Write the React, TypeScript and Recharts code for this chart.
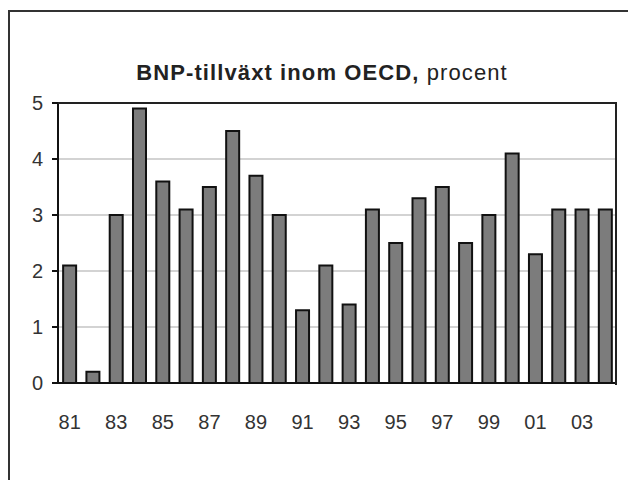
import { Bar, BarChart, CartesianGrid, XAxis, YAxis } from 'recharts'

const years = [
    '81', '82', '83', '84', '85', '86', '87', '88', '89', '90', '91', '92',
    '93', '94', '95', '96', '97', '98', '99', '00', '01', '02', '03', '04',
]
const growth = [
    2.1, 0.2, 3.0, 4.9, 3.6, 3.1, 3.5, 4.5, 3.7, 3.0, 1.3, 2.1,
    1.4, 3.1, 2.5, 3.3, 3.5, 2.5, 3.0, 4.1, 2.3, 3.1, 3.1, 3.1,
]
const yTicks = [0, 1, 2, 3, 4, 5]

const data = years.map((year, i) => ({ year, value: growth[i] }))

const font = 'Arial, "Liberation Sans", sans-serif'

export default function App() {
    return (
        <div
            style={{
                position: 'absolute',
                left: 0,
                top: 0,
                width: 628,
                height: 480,
                background: '#fff',
                overflow: 'hidden',
                fontFamily: font,
            }}
        >
            {/* outer frame, only top and left edges show */}
            <div
                style={{
                    position: 'absolute',
                    left: 8,
                    top: 10,
                    width: 640,
                    height: 500,
                    borderTop: '2px solid #333',
                    borderLeft: '2px solid #333',
                }}
            />
            <div
                style={{
                    position: 'absolute',
                    left: 0,
                    width: 644,
                    top: 60,
                    textAlign: 'center',
                    fontSize: 22,
                    letterSpacing: 1.1,
                    color: '#222',
                    whiteSpace: 'nowrap',
                }}
            >
                <b>BNP-tillväxt inom OECD,</b> procent
            </div>
            <BarChart
                width={628}
                height={480}
                data={data}
                margin={{ top: 103, right: 11, bottom: 57, left: 0 }}
                barCategoryGap='22%'
                style={{ position: 'absolute', left: 0, top: 0 }}
            >
                <CartesianGrid vertical={false} stroke='#c4c4c4' strokeWidth={1.5} />
                <XAxis
                    dataKey='year'
                    interval={1}
                    tickLine={false}
                    tickMargin={26}
                    height={40}
                    axisLine={{ stroke: '#111', strokeWidth: 2 }}
                    tick={{ fill: '#333', fontSize: 20, fontFamily: font }}
                />
                <YAxis
                    domain={[0, 5]}
                    ticks={yTicks}
                    width={58}
                    tickSize={6}
                    tickMargin={9}
                    axisLine={{ stroke: '#111', strokeWidth: 2 }}
                    tickLine={{ stroke: '#111', strokeWidth: 2 }}
                    tick={{ fill: '#333', fontSize: 20, fontFamily: font }}
                />
                <Bar
                    dataKey='value'
                    fill='#7c7c7c'
                    stroke='#111'
                    strokeWidth={2}
                    isAnimationActive={false}
                />
            </BarChart>
            {/* plot frame: top and right edges */}
            <div
                style={{
                    position: 'absolute',
                    left: 58,
                    top: 102,
                    width: 557,
                    height: 281,
                    borderTop: '2px solid #222',
                    borderRight: '2px solid #222',
                    pointerEvents: 'none',
                }}
            />
        </div>
    )
}
